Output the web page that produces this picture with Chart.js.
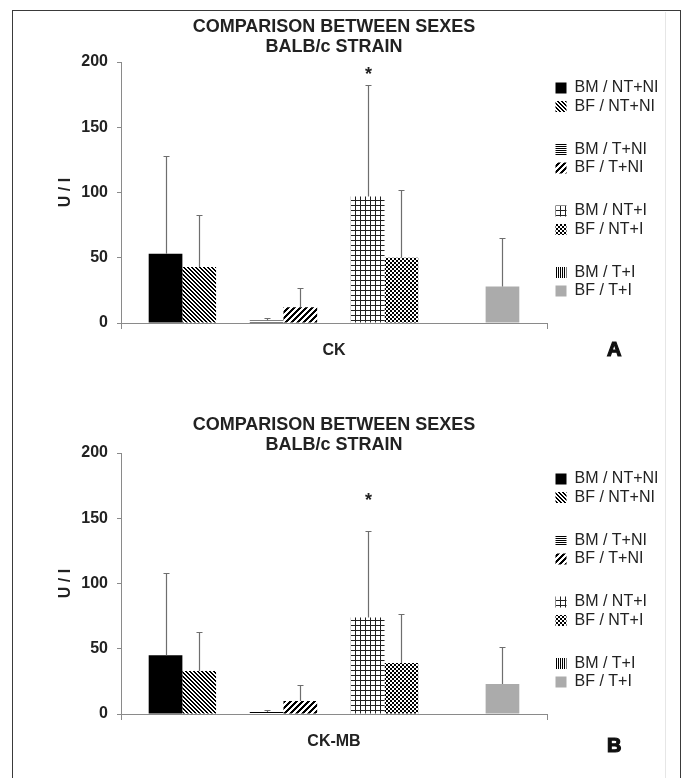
<!DOCTYPE html>
<html>
<head>
<meta charset="utf-8">
<script src="https://cdn.jsdelivr.net/npm/chart.js@4.4.1/dist/chart.umd.min.js"></script>
<style>
  html, body { margin: 0; padding: 0; background: #fff; }
  body { width: 696px; height: 778px; position: relative; overflow: hidden;
         font-family: "Liberation Sans", Arial, Helvetica, sans-serif; }
  .frame { position: absolute; left: 12px; top: 10px; width: 669px; height: 790px;
           border: 1.5px solid #3a3a3a; border-bottom: none; box-sizing: border-box; }
  .rule { position: absolute; left: 665px; top: 12px; width: 1px; height: 770px; background: #e6e6e6; }
  canvas { position: absolute; left: 0; }
  #chartA { top: 0; }
  #chartB { top: 390px; }
  .panel { position: absolute; font: bold 20px "Liberation Sans", Arial, sans-serif; line-height: 1;
           color: #111; -webkit-text-stroke: 1.2px #111; }
</style>
</head>
<body>
<div class="frame"></div>
<div class="rule"></div>
<canvas id="chartA" width="696" height="390"></canvas>
<canvas id="chartB" width="696" height="388"></canvas>
<div class="panel" style="left:607px; top:339px;">A</div>
<div class="panel" style="left:607px; top:735px;">B</div>

<script>
// ---- data -------------------------------------------------------------
const seriesNames = ['BM / NT+NI', 'BF / NT+NI', 'BM / T+NI', 'BF / T+NI',
                     'BM / NT+I', 'BF / NT+I', 'BM / T+I', 'BF / T+I'];
const ckMean   = [53, 43, 2, 12, 97, 50, null, 28];
const ckSD     = [75, 40, 2, 15, 85, 52, null, 37];
const ckmbMean = [45, 33, 1.5, 10, 74, 39, null, 23];
const ckmbSD   = [63, 30, 1.5, 12, 66, 38, null, 28];
const significance = ['', '', '', '', '*', '', '', ''];
const yTicks = [0, 50, 100, 150, 200];
const titleLines = ['COMPARISON BETWEEN SEXES', 'BALB/c STRAIN'];
const yTitle = 'U / I';

// ---- fills (black & white hatch patterns) --------------------------------
const FONT = '"Liberation Sans", Arial, Helvetica, sans-serif';
Chart.defaults.font.family = FONT;

function tile(w, h, paint, ink) {
  const c = document.createElement('canvas');
  c.width = w; c.height = h;
  const g = c.getContext('2d');
  g.fillStyle = '#fff'; g.fillRect(0, 0, w, h);
  g.fillStyle = ink || '#000';
  paint(g, w, h);
  return g.createPattern(c, 'repeat');
}
function diag(n, on, up) {
  return (g) => {
    for (let x = 0; x < n; x++) for (let y = 0; y < n; y++) {
      const k = up ? (x + y) % n : ((x - y) % n + n) % n;
      if (k < on) g.fillRect(x, y, 1, 1);
    }
  };
}
const fills = [
  '#000000',                                                   // solid black
  tile(4, 4, diag(4, 2, false)),                               // \\\ hatch
  tile(1, 2, (g) => g.fillRect(0, 0, 1, 1)),                   // horizontal lines
  tile(6, 6, diag(6, 3, true)),                                // wide /// hatch
  tile(5, 5, (g) => { g.fillRect(0, 0, 5, 1); g.fillRect(0, 0, 1, 5); }, '#222'), // grid
  tile(4, 4, (g) => { g.fillRect(0, 0, 2, 2); g.fillRect(2, 2, 2, 2); }),          // checker
  tile(2, 1, (g) => g.fillRect(0, 0, 1, 1)),                   // vertical lines
  '#ababab'                                                    // solid grey
];

// Series are drawn in pairs; an empty slot separates each pair on the axis
// and leaves a blank row in the legend.
function buildDatasets(means, sds) {
  const out = [];
  seriesNames.forEach((name, i) => {
    if (i > 0 && i % 2 === 0) {
      out.push({ label: '', spacer: true, data: [null], backgroundColor: 'rgba(0,0,0,0)' });
    }
    out.push({ label: name, data: [means[i]], sd: [sds[i]], mark: significance[i],
               backgroundColor: fills[i], borderWidth: 0 });
  });
  return out;
}

// ---- plugins -----------------------------------------------------------
const errorBars = {
  id: 'errorBars',
  afterDatasetsDraw(chart, args, opts) {
    const { ctx } = chart;
    const y = chart.scales.y;
    ctx.save();
    chart.data.datasets.forEach((ds, di) => {
      if (!ds.sd) return;
      const meta = chart.getDatasetMeta(di);
      meta.data.forEach((bar, j) => {
        const m = ds.data[j], s = ds.sd[j];
        if (m == null || s == null) return;
        const x = Math.round(bar.x) + 0.5;
        const yTop = Math.round(y.getPixelForValue(m + s)) + 0.5;
        const yBase = y.getPixelForValue(m);
        ctx.strokeStyle = opts.color;
        ctx.lineWidth = opts.width;
        ctx.beginPath();
        ctx.moveTo(x, yBase); ctx.lineTo(x, yTop);
        ctx.moveTo(x - opts.cap, yTop); ctx.lineTo(x + opts.cap, yTop);
        ctx.stroke();
        if (ds.mark) {
          ctx.fillStyle = '#222';
          ctx.font = 'bold 18px ' + FONT;
          ctx.textAlign = 'center';
          ctx.textBaseline = 'middle';
          ctx.fillText(ds.mark, x, yTop - opts.markGap);
        }
      });
    });
    ctx.restore();
  }
};

// The legend box keeps its computed width for the plot layout, then is
// moved into the right-hand margin and widened so its labels are not clipped.
const legendPlace = {
  id: 'legendPlace',
  afterLayout(chart, args, opts) {
    const lg = chart.legend;
    if (!lg) return;
    lg.left = opts.left; lg.right = chart.width; lg.width = chart.width - opts.left;
    lg.top = opts.top; lg.bottom = chart.height; lg.height = chart.height - opts.top;
  }
};

function legendLabels(chart) {
  return chart.data.datasets.map((ds, i) => ds.spacer
    ? { text: [''], fillStyle: 'rgba(0,0,0,0)', strokeStyle: 'rgba(0,0,0,0)', lineWidth: 0,
        hidden: false, datasetIndex: i, fontColor: '#222' }
    : { text: ds.label, fillStyle: ds.backgroundColor, strokeStyle: 'rgba(0,0,0,0)', lineWidth: 0,
        hidden: false, datasetIndex: i, fontColor: '#222' });
}

// ---- chart factory -----------------------------------------------------
function makeChart(id, category, means, sds, lay) {
  return new Chart(document.getElementById(id), {
    type: 'bar',
    data: { labels: [category], datasets: buildDatasets(means, sds) },
    plugins: [errorBars, legendPlace],
    options: {
      responsive: false,
      animation: false,
      events: [],
      layout: { padding: { left: 54, right: 89, top: 0, bottom: 0 } },
      datasets: { bar: { barPercentage: 1, categoryPercentage: 0.87 } },
      scales: {
        x: {
          afterFit(s) { s.height = lay.xHeight; },
          grid: { offset: true, drawOnChartArea: false, drawTicks: true, tickLength: 6, color: '#8a8a8a' },
          border: { display: true, color: '#8a8a8a', width: 1 },
          ticks: { font: { size: 16, weight: 'bold' }, color: '#222', padding: 12 }
        },
        y: {
          min: 0, max: 200,
          afterFit(s) { s.width = 67; },
          afterBuildTicks(s) { s.ticks = yTicks.map(v => ({ value: v })); },
          grid: { drawOnChartArea: false, drawTicks: true, tickLength: 4, color: '#8a8a8a' },
          border: { display: true, color: '#8a8a8a', width: 1 },
          ticks: { font: { size: 16, weight: 'bold' }, color: '#222', padding: 9 },
          title: { display: true, text: yTitle, color: '#222', padding: { top: 2, bottom: 0 },
                   font: { size: 16, weight: 'bold' } }
        }
      },
      plugins: {
        title: {
          display: true, text: titleLines, fullSize: false, color: '#222',
          font: { size: 18, weight: 'bold', lineHeight: '20px' },
          padding: lay.titlePad
        },
        legend: {
          display: true, position: 'right', align: 'start', maxWidth: 60,
          labels: { boxWidth: 11, boxHeight: 11, padding: 2.5, color: '#222',
                    font: { size: 16, lineHeight: 1.375 }, generateLabels: legendLabels }
        },
        tooltip: { enabled: false },
        errorBars: { color: '#6e6e6e', width: 1.2, cap: 3, markGap: lay.markGap },
        legendPlace: { left: 553, top: lay.legendTop }
      }
    }
  });
}

makeChart('chartA', 'CK', ckMean, ckSD,
  { xHeight: 67, titlePad: { top: 17, bottom: 5 }, legendTop: 77.5, markGap: 10 });
makeChart('chartB', 'CK-MB', ckmbMean, ckmbSD,
  { xHeight: 64, titlePad: { top: 25, bottom: -2 }, legendTop: 78.5, markGap: 30 });
</script>
</body>
</html>
